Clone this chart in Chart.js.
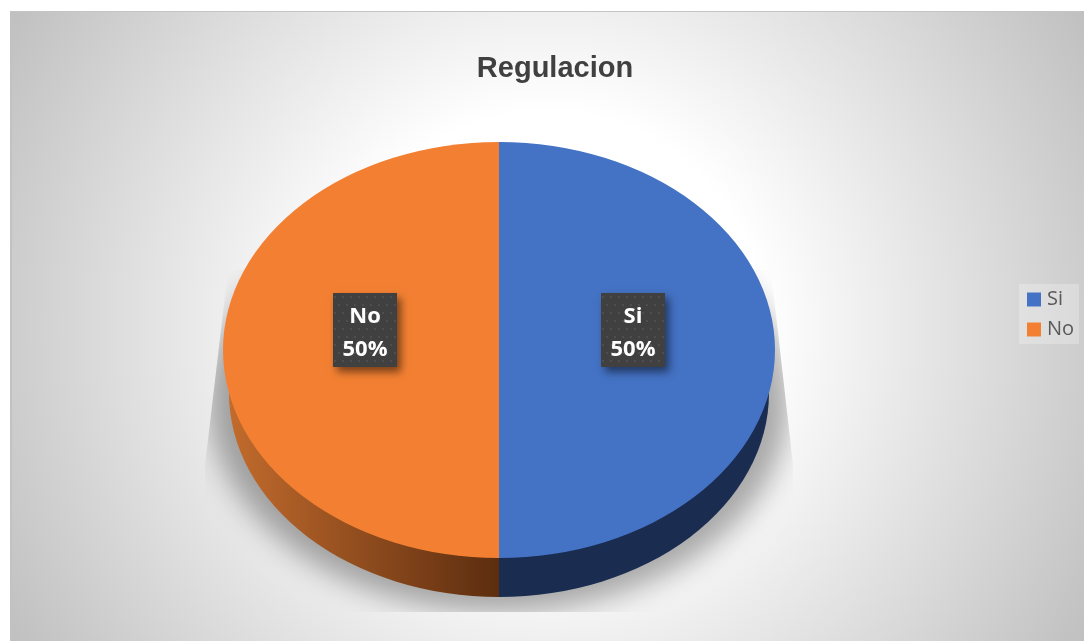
<!DOCTYPE html>
<html>
<head>
<meta charset="utf-8">
<title>Regulacion</title>
<script src="https://cdn.jsdelivr.net/npm/chart.js@4"></script>
<style>
  html, body { margin: 0; padding: 0; background: #fff; overflow: hidden; }
  #panel {
    position: absolute; left: 10px; top: 11px; width: 1074px; height: 630px;
    background: radial-gradient(circle farthest-corner at 50% 50%, #fff 34.5%, #c0c0c0 100%);
    border-top: 1px solid #c4c4c4;
    border-left: 2px solid #c2c2c2;
    box-sizing: border-box;
  }
  canvas { position: absolute; left: 0; top: 0; }
</style>
</head>
<body>
<div id="panel"></div>
<canvas id="pieChart" width="1084" height="641"></canvas>
<script>
const categories = ['Si', 'No'];
const values = [50, 50];
const topColors = ['#4472C4', '#F38032'];

// the flat pie is squashed into a tilted disc, Excel 3D style
const centerX = 499, centerY = 350, radiusX = 276, radiusY = 208;
const wall = { centerY: 393, radiusX: 270, radiusY: 204 };

function labelBox(ctx, cx, cy, lines) {
  const w = 64, h = 74;
  const x = Math.round(cx), y = Math.round(cy);
  ctx.save();
  ctx.shadowColor = 'rgba(0,0,0,0.5)';
  ctx.shadowOffsetX = 4;
  ctx.shadowOffsetY = 5;
  ctx.shadowBlur = 8;
  ctx.fillStyle = '#404040';
  ctx.fillRect(x - w / 2, y - h / 2, w, h);
  ctx.restore();

  // dotted texture
  const tile = document.createElement('canvas');
  tile.width = 8; tile.height = 16;
  const t = tile.getContext('2d');
  t.fillStyle = '#4e4e4e';
  t.fillRect(1, 3, 2, 2);
  t.fillRect(5, 11, 2, 2);
  ctx.save();
  ctx.translate(x - w / 2, y - h / 2);
  ctx.fillStyle = ctx.createPattern(tile, 'repeat');
  ctx.fillRect(0, 0, w, h);
  ctx.restore();

  ctx.save();
  ctx.fillStyle = '#fff';
  ctx.font = 'bold 22px "Open Sans"';
  ctx.textAlign = 'center';
  ctx.textBaseline = 'middle';
  ctx.fillText(lines[0], x, y - 13);
  ctx.fillText(lines[1], x, y + 20);
  ctx.restore();
}

const disc3d = {
  id: 'disc3d',
  afterLayout(chart) {
    // nudge the legend onto its small box; the tall extent keeps its items in one column
    const lg = chart.legend;
    lg.left = 1021; lg.right = 1081; lg.width = 60;
    lg.top = 10; lg.bottom = 619; lg.height = 609;
  },
  beforeDraw(chart) {
    const ctx = chart.ctx;
    ctx.save();
    ctx.fillStyle = 'rgba(255,255,255,0.25)';
    ctx.fillRect(1019, 284, 60, 60);
    ctx.restore();
  },
  beforeDatasetsDraw(chart) {
    const ctx = chart.ctx;
    const arcs = chart.getDatasetMeta(0).data;

    // cast shadow, cut off by the picture-effect box
    ctx.save();
    ctx.beginPath();
    ctx.moveTo(228, 270); ctx.lineTo(771, 270); ctx.lineTo(793, 465);
    ctx.lineTo(793, 612); ctx.lineTo(205, 612); ctx.lineTo(205, 465);
    ctx.closePath();
    ctx.clip();
    ctx.filter = 'blur(14px)';
    ctx.fillStyle = 'rgba(0,0,0,0.33)';
    ctx.beginPath();
    ctx.ellipse(centerX, 400, 290, 212, 0, 0, Math.PI * 2);
    ctx.fill();
    ctx.restore();

    // side walls
    arcs.forEach((arc, i) => {
      ctx.save();
      if (i === 0) {
        ctx.fillStyle = '#1A2C50';
      } else {
        const g = ctx.createLinearGradient(224, 0, centerX, 0);
        g.addColorStop(0, '#C46C2D');
        g.addColorStop(1, '#5C2D0F');
        ctx.fillStyle = g;
      }
      ctx.beginPath();
      ctx.moveTo(centerX, wall.centerY);
      ctx.ellipse(centerX, wall.centerY, wall.radiusX, wall.radiusY, 0, arc.startAngle, arc.endAngle);
      ctx.closePath();
      ctx.fill();
      ctx.restore();
    });

    // top face: arcs are drawn by Chart.js in this transform
    const first = arcs[0];
    ctx.save();
    ctx.translate(centerX, centerY);
    ctx.scale(radiusX / first.outerRadius, radiusY / first.outerRadius);
    ctx.translate(-first.x, -first.y);
  },
  afterDatasetsDraw(chart) {
    const ctx = chart.ctx;
    ctx.restore();
    const arcs = chart.getDatasetMeta(0).data;
    const total = values.reduce((a, b) => a + b, 0);
    arcs.forEach((arc, i) => {
      const mid = (arc.startAngle + arc.endAngle) / 2;
      const x = centerX + Math.cos(mid) * radiusX * 0.487;
      const y = centerY - 20 + Math.sin(mid) * radiusY * 0.487;
      labelBox(ctx, x, y, [categories[i], Math.round(values[i] / total * 100) + '%']);
    });
  }
};

new Chart(document.getElementById('pieChart').getContext('2d'), {
  type: 'pie',
  data: {
    labels: categories,
    datasets: [{
      data: values,
      backgroundColor: topColors,
      borderWidth: 0,
      radius: 276,
      clip: false
    }]
  },
  options: {
    responsive: false,
    animation: false,
    layout: { padding: { left: 31, right: 5, top: 52 } },
    plugins: {
      tooltip: { enabled: false },
      title: {
        display: true,
        text: 'Regulacion',
        color: '#404040',
        font: { family: '"Liberation Sans"', size: 29, weight: 'bold' },
        padding: { top: 0, bottom: 10 }
      },
      legend: {
        position: 'right',
        labels: {
          usePointStyle: true,
          pointStyle: 'rect',
          boxWidth: 6,
          boxHeight: 14,
          padding: 10,
          color: '#595959',
          font: { family: '"Open Sans"', size: 20 }
        }
      }
    }
  },
  plugins: [disc3d]
});
</script>
</body>
</html>
